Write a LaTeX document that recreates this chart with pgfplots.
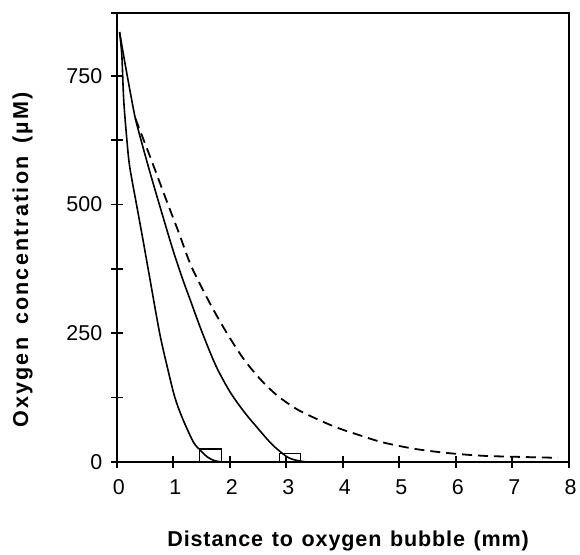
\documentclass[border=0pt]{standalone}
\usepackage{fontspec}
\setmainfont{Liberation Sans}
\usepackage{pgfplots}
\pgfplotsset{compat=1.18}
\begin{document}
\begin{tikzpicture}
\begin{axis}[
  at={(0,0)}, anchor=south west,
  scale only axis, width=453pt, height=450pt,
  xmin=0, xmax=8, ymin=0, ymax=872,
  axis lines=box,
  axis line style={line width=2.2pt},
  xtick={0,1,...,8}, ytick={0,250,500,750},
  minor ytick={125,375,625,872},
  tick pos=left,
  tick align=center,
  major tick length=12pt, minor tick length=12pt,
  every tick/.append style={black, line width=1.6pt},
  xticklabel={\fontsize{21.5}{24}\selectfont\pgfmathprintnumber[assume math mode=true]{\tick}},
  yticklabel={\fontsize{21.5}{24}\selectfont\pgfmathprintnumber[assume math mode=true]{\tick}},
  xticklabel style={anchor=north, xshift=2pt, yshift=-8pt},
  yticklabel style={anchor=east, xshift=-5pt},
  xlabel={\addfontfeatures{LetterSpace=4}Distance\hspace{0.4em}to\hspace{0.4em}oxygen\hspace{0.4em}bubble\hspace{0.4em}(mm)},
  ylabel={\addfontfeatures{LetterSpace=10}Oxygen\hspace{0.6em}concentration\hspace{0.6em}(µM)},
  label style={font=\bfseries\fontsize{21.6}{26}\selectfont},
  xlabel style={at={(axis description cs:0.512,-0.189)}, anchor=base},
  ylabel style={at={(axis description cs:-0.196,0.45)}, anchor=base},
  clip=false,
]
% steep solid curve
\addplot[black, line width=1.6pt, smooth, tension=0.5] coordinates {
(0.05,835)(0.09,790)(0.124,702)(0.18,625)(0.23,573)(0.35,500)(0.465,431)
(0.58,360)(0.76,250)(0.9,182)(1.03,125)(1.17,83)(1.36,38)(1.47,24)
(1.6,10)(1.72,3)(1.85,0)};
% middle solid curve
\addplot[black, line width=1.6pt, smooth, tension=0.5] coordinates {
(0.05,835)(0.15,772)(0.25,712)(0.33,667)(0.45,617)(0.6,558)(0.8,483)
(1.0,410)(1.17,354)(1.3,315)(1.5,255)(1.75,188)(2.0,137)(2.25,98)
(2.5,65)(2.75,34)(3.0,11)(3.15,4)(3.35,0)};
% dashed curve
\addplot[black, line width=1.8pt, smooth, tension=0.5, dash pattern=on 10pt off 6pt] coordinates {
(0.33,667)(0.6,590)(0.88,508)(1.1,445)(1.32,380)(1.65,308)(1.94,252)
(2.24,201)(2.53,162)(2.83,130)(3.18,103)(3.53,84)(3.89,67)(4.24,54)
(4.71,38)(5.30,25)(5.89,17)(6.48,12)(7.07,10)(7.81,8)};
% boxes
\addplot[black, line width=1.3pt] coordinates {(1.47,0)(1.47,25)(1.85,25)(1.85,0)};
\addplot[black, line width=1.3pt] coordinates {(2.88,0)(2.88,17)(3.25,17)(3.25,0)};
\end{axis}
\path (-117pt,-88pt) rectangle (463pt,463pt);
\end{tikzpicture}
\end{document}
